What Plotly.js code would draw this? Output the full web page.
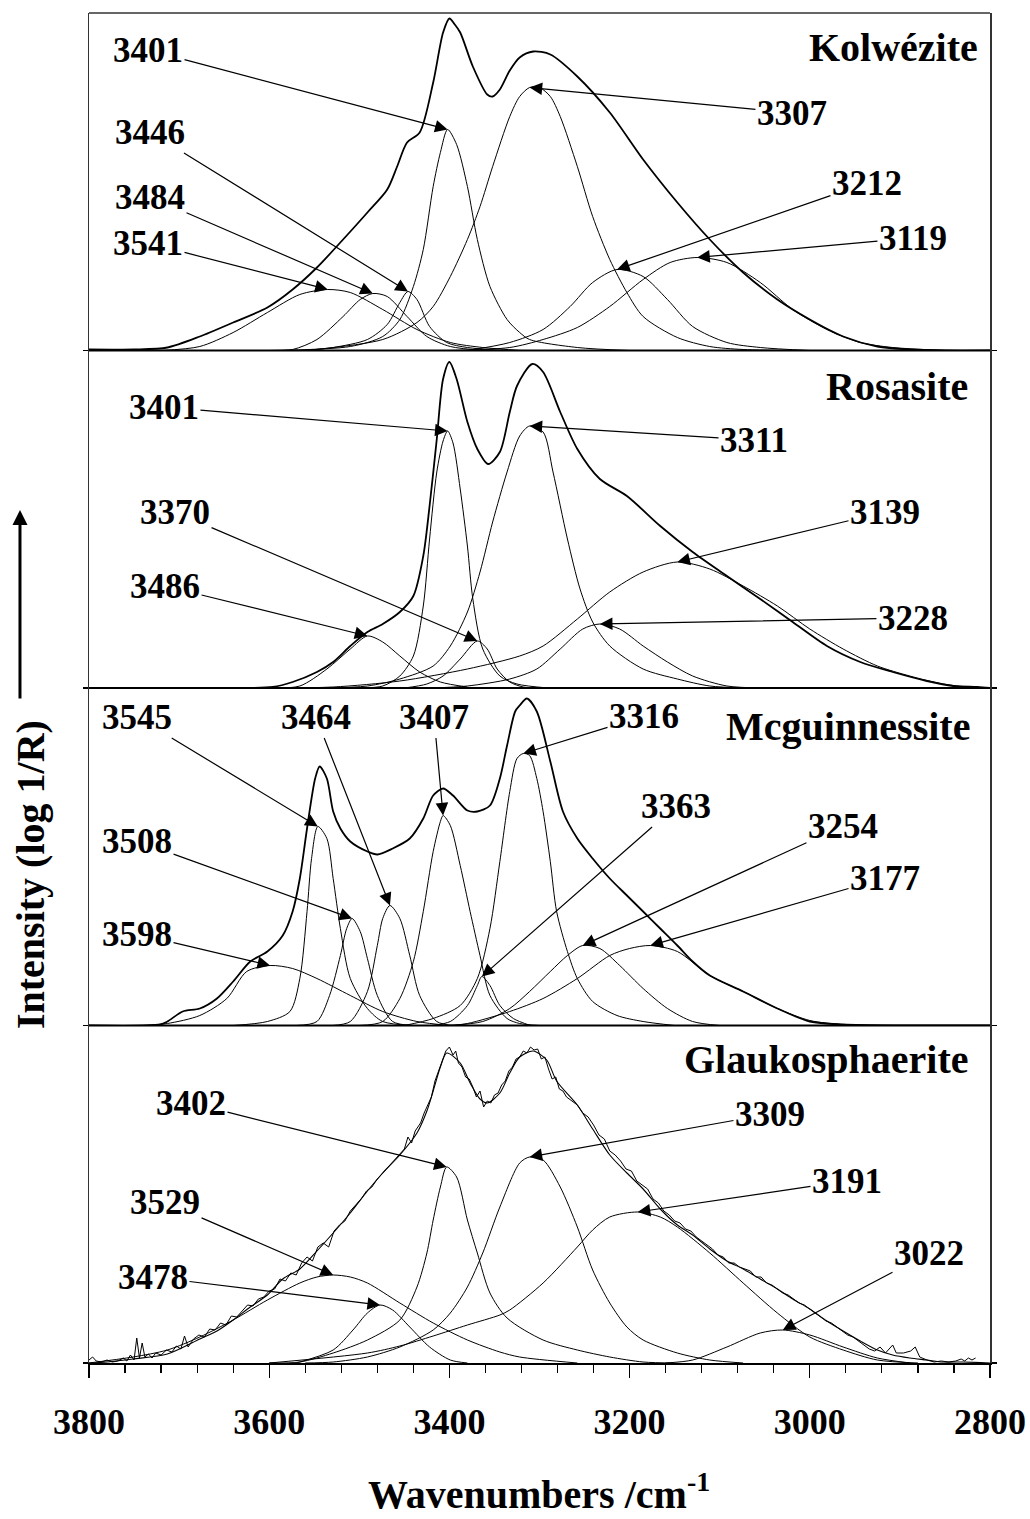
<!DOCTYPE html>
<html><head><meta charset="utf-8">
<script src="https://cdn.plot.ly/plotly-3.0.1.min.js"></script>
<style>html,body{margin:0;padding:0;background:#fff}#chart{width:1030px;height:1519px}</style>
</head><body><div id="chart"></div>
<script>
// ---------------- DATA (wavenumber /cm-1, intensity a.u.) ----------------
const panelNames = ['Kolwézite', 'Rosasite', 'Mcguinnessite', 'Glaukosphaerite'];
const xTickLabels = ['3800', '3600', '3400', '3200', '3000', '2800'];

// Kolwezite
const kolTotalWn = [3800,3750,3713,3677,3640,3602,3574,3547,3518,3491,3469,3458,3447,3433,3418,3407,3400,3394,3388,3374,3358,3352,3344,3333,3322,3307,3288,3258,3222,3185,3147,3111,3074,3036,3000,2963,2925,2889,2850,2800];
const kolTotalI  = [0.01,0.01,0.03,0.14,0.28,0.43,0.61,0.83,1.11,1.38,1.61,1.84,2.08,2.18,2.68,3.18,3.32,3.26,3.18,2.84,2.56,2.54,2.61,2.80,2.93,2.99,2.96,2.74,2.38,1.91,1.48,1.11,0.78,0.51,0.31,0.14,0.04,0.01,0.0,0.0];
const kol3541Wn = [3720,3677,3640,3602,3566,3535,3510,3474,3436,3399,3363,3320];
const kol3541I  = [0.0,0.04,0.18,0.38,0.56,0.61,0.58,0.41,0.21,0.08,0.03,0.0];
const kol3484Wn = [3600,3574,3547,3518,3499,3485,3469,3447,3425,3399,3360];
const kol3484I  = [0.0,0.01,0.11,0.34,0.51,0.57,0.54,0.34,0.14,0.04,0.0];
const kol3446Wn = [3560,3529,3491,3469,3455,3446,3436,3422,3403,3380,3340];
const kol3446I  = [0.0,0.03,0.11,0.26,0.48,0.59,0.51,0.24,0.08,0.03,0.0];
const kol3401Wn = [3600,3510,3474,3455,3440,3429,3418,3410,3402,3392,3380,3369,3355,3336,3322,3311,3258,3200];
const kol3401I  = [0.0,0.04,0.14,0.31,0.64,1.01,1.64,1.98,2.21,2.06,1.64,1.11,0.64,0.31,0.18,0.11,0.03,0.0];
const kol3307Wn = [3560,3474,3436,3418,3399,3380,3366,3352,3333,3322,3311,3300,3288,3277,3258,3241,3222,3203,3185,3147,3111,3074,3000];
const kol3307I  = [0.0,0.11,0.28,0.44,0.74,1.11,1.44,1.84,2.34,2.54,2.63,2.63,2.54,2.34,1.84,1.34,0.91,0.58,0.34,0.13,0.04,0.01,0.0];
const kol3212Wn = [3380,3333,3296,3266,3241,3214,3185,3158,3130,3092,3055,3000];
const kol3212I  = [0.0,0.08,0.21,0.44,0.68,0.81,0.74,0.51,0.24,0.08,0.03,0.0];
const kol3119Wn = [3400,3333,3296,3258,3222,3185,3155,3125,3092,3055,3019,2981,2944,2908,2850];
const kol3119I  = [0.0,0.03,0.11,0.23,0.44,0.71,0.88,0.93,0.88,0.68,0.41,0.21,0.08,0.03,0.0];

// Rosasite
const rosTotalWn = [3800,3650,3596,3574,3547,3529,3510,3491,3474,3455,3440,3429,3422,3414,3407,3400,3392,3380,3369,3357,3344,3333,3325,3308,3296,3277,3258,3233,3203,3166,3130,3092,3055,3019,2981,2944,2908,2870,2841,2814,2800];
const rosTotalI  = [0.0,0.0,0.01,0.06,0.16,0.26,0.42,0.56,0.64,0.76,0.92,1.32,1.82,2.49,3.09,3.26,3.09,2.66,2.39,2.24,2.36,2.76,3.02,3.24,3.16,2.76,2.39,2.09,1.92,1.62,1.36,1.12,0.89,0.66,0.42,0.26,0.16,0.07,0.02,0.01,0.0];
const ros3486Wn = [3600,3566,3536,3510,3491,3474,3455,3433,3410,3380];
const ros3486I  = [0.0,0.02,0.19,0.39,0.52,0.46,0.32,0.16,0.06,0.01];
const ros3401Wn = [3500,3474,3455,3440,3429,3422,3414,3407,3402,3396,3388,3380,3374,3363,3344,3325,3290];
const ros3401I  = [0.0,0.02,0.12,0.32,0.82,1.49,2.16,2.47,2.57,2.45,1.99,1.42,0.89,0.39,0.12,0.04,0.0];
const ros3370Wn = [3450,3425,3407,3388,3369,3358,3347,3333,3318,3300];
const ros3370I  = [0.0,0.04,0.12,0.29,0.47,0.39,0.19,0.06,0.01,0.0];
const ros3311Wn = [3540,3491,3455,3418,3399,3380,3366,3352,3336,3322,3311,3296,3285,3269,3255,3241,3222,3185,3147,3111,3070];
const ros3311I  = [0.0,0.02,0.09,0.22,0.42,0.76,1.16,1.66,2.16,2.52,2.62,2.56,2.16,1.49,0.99,0.66,0.42,0.19,0.09,0.02,0.0];
const ros3228Wn = [3420,3380,3333,3303,3277,3252,3233,3211,3185,3158,3130,3092,3050];
const ros3228I  = [0.0,0.02,0.09,0.19,0.39,0.59,0.64,0.59,0.42,0.26,0.12,0.02,0.0];
const ros3139Wn = [3600,3529,3455,3380,3322,3296,3258,3222,3185,3147,3111,3074,3036,3000,2963,2925,2889,2852,2814];
const ros3139I  = [0.0,0.01,0.07,0.19,0.32,0.42,0.69,0.96,1.16,1.26,1.19,1.02,0.82,0.59,0.39,0.22,0.12,0.04,0.0];

// Mcguinnessite
const mcgTotalWn = [3800,3721,3713,3696,3677,3658,3640,3621,3602,3585,3574,3566,3558,3549,3544,3536,3529,3521,3510,3491,3480,3463,3444,3429,3418,3407,3396,3380,3369,3355,3344,3336,3327,3322,3314,3303,3288,3274,3258,3241,3222,3203,3185,3166,3147,3130,3111,3074,3036,3000,2963,2900,2800];
const mcgTotalI  = [0.0,0.01,0.04,0.14,0.17,0.27,0.44,0.64,0.74,0.90,1.14,1.47,1.97,2.47,2.59,2.47,2.14,1.97,1.84,1.74,1.71,1.77,1.87,2.07,2.30,2.37,2.30,2.15,2.14,2.20,2.47,2.80,3.14,3.20,3.27,3.14,2.64,2.14,1.87,1.67,1.47,1.30,1.14,0.97,0.80,0.64,0.50,0.34,0.17,0.04,0.01,0.0,0.0];
const mcg3598Wn = [3740,3713,3677,3647,3625,3599,3574,3547,3510,3474,3436,3400];
const mcg3598I  = [0.0,0.02,0.10,0.27,0.54,0.60,0.57,0.47,0.30,0.14,0.04,0.0];
const mcg3545Wn = [3640,3602,3577,3566,3558,3553,3546,3536,3529,3521,3510,3491,3474,3440];
const mcg3545I  = [0.0,0.04,0.14,0.47,1.14,1.67,1.99,1.87,1.47,0.97,0.47,0.17,0.04,0.0];
const mcg3508Wn = [3570,3547,3533,3521,3514,3508,3499,3491,3480,3463,3440];
const mcg3508I  = [0.0,0.04,0.30,0.70,0.97,1.07,0.94,0.67,0.30,0.04,0.0];
const mcg3464Wn = [3530,3510,3491,3480,3474,3466,3455,3444,3433,3414,3395];
const mcg3464I  = [0.0,0.04,0.34,0.80,1.07,1.20,1.07,0.70,0.30,0.04,0.0];
const mcg3407Wn = [3500,3474,3455,3440,3429,3418,3410,3407,3399,3388,3377,3366,3355,3336,3322,3300];
const mcg3407I  = [0.0,0.04,0.27,0.64,1.14,1.74,2.04,2.10,2.00,1.60,1.14,0.70,0.30,0.07,0.02,0.0];
const mcg3363Wn = [3420,3399,3380,3369,3364,3355,3344,3329,3310];
const mcg3363I  = [0.0,0.04,0.20,0.40,0.49,0.40,0.20,0.07,0.0];
const mcg3316Wn = [3450,3418,3388,3369,3355,3344,3333,3325,3318,3311,3303,3296,3288,3281,3269,3258,3241,3214,3185,3150];
const mcg3316I  = [0.0,0.07,0.20,0.47,0.97,1.64,2.34,2.67,2.72,2.70,2.47,2.14,1.64,1.14,0.74,0.47,0.24,0.10,0.04,0.0];
const mcg3254Wn = [3400,3363,3333,3311,3288,3269,3252,3233,3211,3185,3158,3130,3100];
const mcg3254I  = [0.0,0.04,0.17,0.34,0.54,0.70,0.80,0.77,0.60,0.37,0.17,0.04,0.0];
const mcg3177Wn = [3400,3380,3333,3296,3258,3222,3200,3177,3147,3111,3074,3036,3000,2963,2920];
const mcg3177I  = [0.0,0.02,0.14,0.27,0.47,0.70,0.77,0.80,0.74,0.50,0.34,0.17,0.05,0.01,0.0];

// Glaukosphaerite
const glkFitWn = [3800,3780,3751,3713,3677,3658,3640,3621,3602,3585,3566,3547,3529,3510,3491,3474,3455,3436,3425,3418,3410,3403,3388,3377,3366,3358,3344,3333,3322,3307,3292,3281,3258,3241,3222,3203,3185,3166,3147,3130,3111,3092,3074,3055,3036,3019,3000,2981,2963,2944,2925,2908,2889,2870,2852,2830,2800];
const glkFitI  = [0.0,0.01,0.04,0.09,0.24,0.32,0.43,0.56,0.68,0.84,0.94,1.12,1.30,1.50,1.72,1.90,2.08,2.30,2.52,2.72,2.96,3.10,3.00,2.80,2.64,2.60,2.70,2.90,3.06,3.12,3.03,2.82,2.58,2.34,2.08,1.90,1.74,1.54,1.38,1.28,1.14,1.02,0.94,0.84,0.74,0.64,0.54,0.42,0.32,0.22,0.13,0.08,0.05,0.03,0.01,0.01,0.0];
const glkMeasWn = [3800,3796,3792,3786,3780,3774,3768,3762,3758,3754,3750,3747,3744,3741,3738,3734,3730,3726,3720,3714,3708,3703,3698,3694,3690,3684,3678,3672,3666,3660,3654,3648,3642,3636,3630,3624,3618,3612,3606,3600,3594,3588,3582,3576,3570,3564,3558,3552,3546,3540,3534,3528,3522,3516,3510,3504,3498,3492,3486,3480,3474,3468,3462,3456,3450,3446,3442,3438,3432,3428,3424,3420,3416,3412,3408,3404,3400,3396,3393,3390,3386,3382,3378,3374,3370,3366,3362,3358,3354,3350,3346,3342,3338,3334,3330,3326,3322,3318,3314,3310,3306,3302,3298,3294,3290,3286,3282,3278,3274,3270,3264,3258,3252,3246,3240,3234,3228,3222,3216,3210,3204,3198,3192,3186,3180,3174,3168,3162,3156,3150,3144,3138,3132,3126,3120,3114,3108,3102,3096,3090,3084,3078,3072,3066,3060,3054,3048,3042,3036,3030,3024,3018,3012,3006,3000,2994,2988,2982,2976,2970,2964,2958,2952,2946,2940,2934,2928,2922,2916,2912,2908,2904,2896,2888,2883,2878,2870,2862,2854,2846,2838,2832,2828,2824,2820,2816];
const glkMeasI  = [0.03,0.06,0.02,0.01,0.03,0.01,0.02,0.05,0.02,0.08,0.03,0.25,0.05,0.20,0.06,0.09,0.05,0.10,0.08,0.13,0.11,0.17,0.14,0.27,0.16,0.24,0.28,0.26,0.34,0.33,0.40,0.38,0.47,0.46,0.52,0.58,0.57,0.64,0.66,0.72,0.74,0.84,0.82,0.90,0.88,1.00,1.06,1.02,1.16,1.20,1.16,1.32,1.38,1.42,1.52,1.58,1.64,1.72,1.76,1.84,1.90,1.96,2.02,2.08,2.14,2.26,2.20,2.32,2.40,2.50,2.58,2.66,2.82,2.92,3.04,3.12,3.16,3.08,3.12,3.00,2.96,2.86,2.84,2.76,2.66,2.72,2.56,2.62,2.60,2.68,2.70,2.78,2.82,2.92,2.96,3.04,3.06,3.12,3.10,3.16,3.13,3.14,3.04,3.06,2.94,2.84,2.86,2.74,2.72,2.66,2.62,2.58,2.50,2.46,2.38,2.28,2.24,2.12,2.08,2.02,1.94,1.92,1.82,1.78,1.74,1.64,1.60,1.52,1.48,1.42,1.40,1.34,1.32,1.26,1.22,1.18,1.14,1.08,1.06,1.00,1.00,0.96,0.94,0.92,0.86,0.86,0.80,0.78,0.74,0.70,0.68,0.64,0.60,0.58,0.54,0.50,0.46,0.42,0.40,0.36,0.32,0.28,0.26,0.22,0.18,0.14,0.12,0.16,0.10,0.14,0.18,0.10,0.10,0.12,0.16,0.06,0.03,0.01,0.02,0.01,0.02,0.04,0.02,0.05,0.03,0.05];
const glk3529Wn = [3800,3751,3713,3677,3640,3602,3566,3547,3529,3510,3491,3455,3418,3380,3344,3322,3258];
const glk3529I  = [0.0,0.06,0.13,0.26,0.43,0.63,0.80,0.86,0.88,0.86,0.80,0.60,0.40,0.23,0.11,0.06,0.0];
const glk3478Wn = [3570,3529,3507,3491,3477,3463,3444,3422,3399,3380];
const glk3478I  = [0.0,0.13,0.33,0.50,0.58,0.53,0.36,0.16,0.03,0.0];
const glk3402Wn = [3600,3566,3529,3491,3455,3436,3425,3418,3410,3403,3392,3380,3369,3355,3336,3296,3258,3222,3185,3150];
const glk3402I  = [0.0,0.01,0.10,0.23,0.43,0.76,1.10,1.43,1.76,1.96,1.86,1.43,1.10,0.70,0.45,0.23,0.13,0.06,0.01,0.0];
const glk3309Wn = [3560,3529,3491,3455,3418,3399,3380,3363,3344,3322,3311,3296,3277,3258,3241,3222,3203,3185,3147,3111,3074];
const glk3309I  = [0.0,0.01,0.06,0.16,0.33,0.50,0.76,1.10,1.56,2.00,2.06,2.03,1.76,1.36,0.93,0.60,0.36,0.23,0.10,0.03,0.0];
const glk3191Wn = [3600,3491,3455,3418,3380,3344,3333,3296,3258,3241,3222,3191,3166,3147,3111,3074,3036,3000,2963,2925,2880];
const glk3191I  = [0.0,0.10,0.17,0.27,0.38,0.48,0.53,0.80,1.16,1.33,1.46,1.51,1.46,1.36,1.10,0.80,0.50,0.26,0.13,0.03,0.0];
const glk3022Wn = [3160,3130,3092,3055,3030,3000,2963,2925,2889];
const glk3022I  = [0.0,0.03,0.16,0.30,0.33,0.28,0.16,0.05,0.0];

// ---------------- BUILD ----------------
const FONT = '"Liberation Serif", "Times New Roman", serif';
const yIds = ['y', 'y2', 'y3', 'y4'];
const panels = [
  { total: [[kolTotalWn, kolTotalI]],
    comps: [[kol3541Wn, kol3541I, '3541'], [kol3484Wn, kol3484I, '3484'], [kol3446Wn, kol3446I, '3446'], [kol3401Wn, kol3401I, '3401'],
            [kol3307Wn, kol3307I, '3307'], [kol3212Wn, kol3212I, '3212'], [kol3119Wn, kol3119I, '3119']] },
  { total: [[rosTotalWn, rosTotalI]],
    comps: [[ros3486Wn, ros3486I, '3486'], [ros3401Wn, ros3401I, '3401'], [ros3370Wn, ros3370I, '3370'], [ros3311Wn, ros3311I, '3311'],
            [ros3228Wn, ros3228I, '3228'], [ros3139Wn, ros3139I, '3139']] },
  { total: [[mcgTotalWn, mcgTotalI]],
    comps: [[mcg3598Wn, mcg3598I, '3598'], [mcg3545Wn, mcg3545I, '3545'], [mcg3508Wn, mcg3508I, '3508'], [mcg3464Wn, mcg3464I, '3464'],
            [mcg3407Wn, mcg3407I, '3407'], [mcg3363Wn, mcg3363I, '3363'], [mcg3316Wn, mcg3316I, '3316'], [mcg3254Wn, mcg3254I, '3254'],
            [mcg3177Wn, mcg3177I, '3177']] },
  { total: [[glkFitWn, glkFitI], [glkMeasWn, glkMeasI, 'raw']],
    comps: [[glk3529Wn, glk3529I, '3529'], [glk3478Wn, glk3478I, '3478'], [glk3402Wn, glk3402I, '3402'], [glk3309Wn, glk3309I, '3309'],
            [glk3191Wn, glk3191I, '3191'], [glk3022Wn, glk3022I, '3022']] }
];

// label text positions (layout only): [panel, label, textX (cm-1), textY (a.u.)]
const labelPlacement = [
  [0,'3401',3734.5,3.005],[0,'3446',3732.3,2.185],[0,'3484',3732.3,1.535],[0,'3541',3734.5,1.075],
  [0,'3307',3019.8,2.375],[0,'3212',2936.5,1.675],[0,'3119',2885.5,1.125],
  [1,'3401',3716.8,2.81],[1,'3370',3704.5,1.76],[1,'3486',3715.6,1.02],[1,'3311',3061.9,2.48],[1,'3139',2916.5,1.76],[1,'3228',2885.5,0.70],
  [2,'3545',3746.7,3.085],[2,'3464',3548.1,3.085],[2,'3407',3417.1,3.085],[2,'3508',3746.7,1.845],[2,'3598',3746.7,0.915],
  [2,'3316',3184.0,3.095],[2,'3363',3148.5,2.195],[2,'3254',2963.2,1.995],[2,'3177',2916.5,1.475],
  [3,'3402',3686.8,2.60],[3,'3529',3715.6,1.61],[3,'3478',3729.0,0.86],[3,'3309',3044.2,2.49],[3,'3191',2958.7,1.82],[3,'3022',2867.7,1.10]
];
const titlePlacement = [[0.989, 0.9741], [0.978, 0.7235], [0.980, 0.4715], [0.978, 0.2245]];

const traces = [];
panels.forEach((p, i) => {
  p.comps.forEach(c => traces.push({
    type: 'scatter', mode: 'lines', x: c[0], y: c[1], xaxis: 'x', yaxis: yIds[i], hoverinfo: 'skip',
    line: { color: '#000', width: 1, shape: 'spline', smoothing: 0.8 }
  }));
  p.total.forEach(t => traces.push({
    type: 'scatter', mode: 'lines', x: t[0], y: t[1], xaxis: 'x', yaxis: yIds[i], hoverinfo: 'skip',
    line: t[2] === 'raw' ? { color: '#000', width: 1, shape: 'linear' }
                         : { color: '#000', width: i === 3 ? 1.1 : 1.8, shape: 'spline', smoothing: 0.8 }
  }));
});

const annotations = [];
labelPlacement.forEach(([pi, lab, tx, ty]) => {
  const comp = panels[pi].comps.find(c => c[2] === lab);
  let k = 0; comp[1].forEach((v, j) => { if (v > comp[1][k]) k = j; });
  annotations.push({
    xref: 'x', yref: yIds[pi], x: comp[0][k], y: comp[1][k],
    axref: 'x', ayref: yIds[pi], ax: tx, ay: ty,
    text: '<b>' + lab + '</b>', showarrow: true, arrowhead: 2, arrowsize: 2.1, arrowwidth: 1.2, arrowcolor: '#000',
    font: { family: FONT, size: 35, color: '#000' }
  });
});
panelNames.forEach((n, i) => annotations.push({
  xref: 'paper', yref: 'paper', x: titlePlacement[i][0], y: titlePlacement[i][1], xanchor: 'right', yanchor: 'middle',
  text: '<b>' + n + '</b>', showarrow: false, font: { family: FONT, size: 40, color: '#000' }
}));
annotations.push({ xref: 'paper', yref: 'paper', x: -0.0655, y: 0.3622, xanchor: 'center', yanchor: 'middle',
  text: '<b>Intensity (log 1/R)</b>', textangle: -90, showarrow: false, font: { family: FONT, size: 40, color: '#000' } });
annotations.push({ xref: 'paper', yref: 'paper', x: -0.0766, y: 0.6319, ax: 0, ay: 190, axref: 'pixel', ayref: 'pixel',
  text: '', showarrow: true, arrowhead: 2, arrowsize: 1, arrowwidth: 3, arrowcolor: '#000' });
annotations.push({ xref: 'paper', yref: 'paper', x: 0.4994, y: -0.0950, xanchor: 'center', yanchor: 'middle',
  text: '<b>Wavenumbers /cm<sup>-1</sup></b>', showarrow: false, font: { family: FONT, size: 40, color: '#000' } });

function yax(domain) {
  return { domain: domain, range: [0, 3.375], showline: true, linecolor: '#333', linewidth: 1.5, mirror: 'ticks',
    ticks: 'outside', tickmode: 'array', tickvals: [0], ticklen: 5, tickwidth: 1.2, tickcolor: '#000',
    showticklabels: false, showgrid: false, zeroline: false, fixedrange: true };
}

const shapes = [0.25, 0.5, 0.75].map(v => ({ type: 'line', xref: 'paper', yref: 'paper', x0: 0, x1: 1, y0: v, y1: v,
  line: { color: '#000', width: 2 } }));
shapes.push({ type: 'line', xref: 'paper', yref: 'paper', x0: 0, x1: 1, y0: 1, y1: 1, line: { color: '#333', width: 1.5 } });

const layout = {
  width: 1030, height: 1519,
  margin: { l: 89, r: 40, t: 13, b: 156 },
  paper_bgcolor: '#fff', plot_bgcolor: 'rgba(0,0,0,0)', showlegend: false,
  font: { family: FONT, color: '#000' },
  xaxis: { range: [3800, 2800], anchor: 'y4', showline: true, linecolor: '#000', linewidth: 2,
    ticks: 'outside', tickmode: 'array', tickvals: xTickLabels.map(Number), ticktext: xTickLabels,
    ticklen: 13, tickwidth: 1.3, tickcolor: '#000',
    minor: { tickmode: 'linear', tick0: 2800, dtick: 40, ticks: 'outside', ticklen: 8, tickwidth: 1.2, tickcolor: '#000' },
    tickfont: { family: FONT, size: 36, color: '#000', weight: 'bold' }, ticklabelstandoff: 13,
    showgrid: false, zeroline: false, fixedrange: true },
  yaxis: yax([0.75, 1]), yaxis2: yax([0.5, 0.75]), yaxis3: yax([0.25, 0.5]), yaxis4: yax([0, 0.25]),
  shapes: shapes, annotations: annotations
};

Plotly.newPlot('chart', traces, layout, { displayModeBar: false, staticPlot: true });
</script></body></html>
